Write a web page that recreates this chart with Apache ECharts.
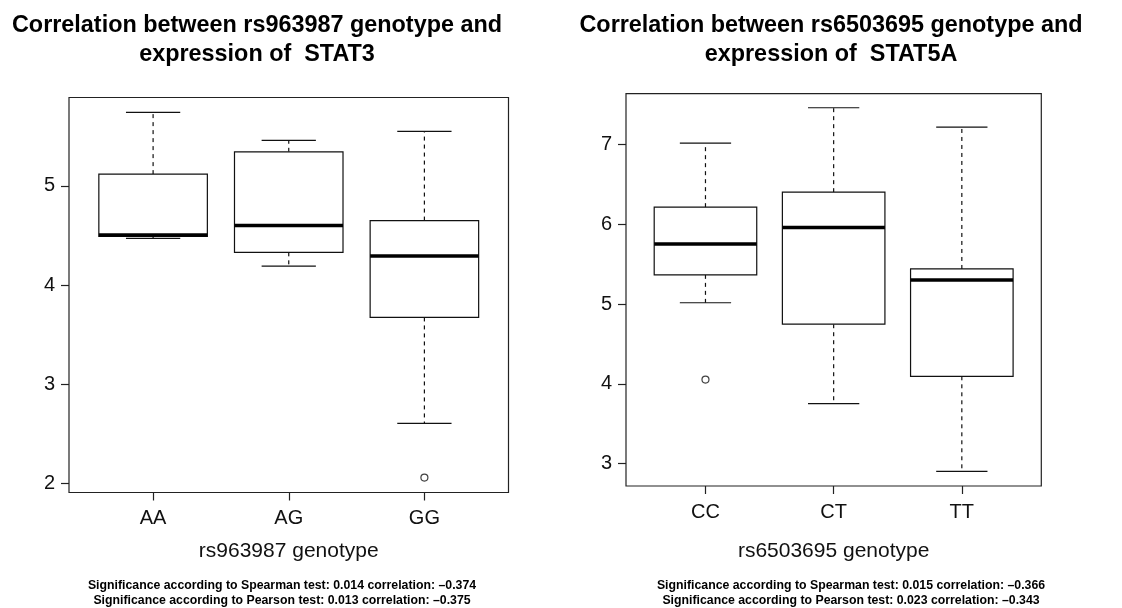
<!DOCTYPE html>
<html>
<head>
<meta charset="utf-8">
<script src="https://cdn.jsdelivr.net/npm/echarts@6/dist/echarts.min.js"></script>
<style>
  html, body { margin: 0; padding: 0; background: #fff; }
  #container { width: 1122px; height: 608px; }
</style>
</head>
<body>
<div id="container"></div>
<script>
var dom = document.getElementById("container");
var myChart = echarts.init(dom);

// left panel: rs963987 vs STAT3
var leftCats = ['AA', 'AG', 'GG'];
// [lower whisker, Q1, median, Q3, upper whisker]
var leftStats = [
    [4.47, 4.49, 4.505, 5.118, 5.74],
    [4.19, 4.33, 4.60, 5.343, 5.458],
    [2.606, 3.674, 4.293, 4.65, 5.549]
];
var leftOutliers = [[3, 2.06]];
var leftTicks = [2, 3, 4, 5];

// right panel: rs6503695 vs STAT5A
var rightCats = ['CC', 'CT', 'TT'];
var rightStats = [
    [5.018, 5.368, 5.756, 6.217, 7.02],
    [3.754, 4.749, 5.962, 6.405, 7.464],
    [2.904, 4.096, 5.305, 5.442, 7.222]
];
var rightOutliers = [[1, 4.055]];
var rightTicks = [3, 4, 5, 6, 7];

var FONT = "'Liberation Sans', Arial, Helvetica, sans-serif";

const toBoxData = (stats) =>
    stats.map(function (s, i) {
        return [i + 1].concat(s);
    });

// R style boxplot: dashed whiskers, solid caps, thick median
function renderBox(params, api) {
    var x = api.value(0);
    var lo = api.value(1), q1 = api.value(2), med = api.value(3), q3 = api.value(4), hi = api.value(5);
    var half = 0.4, cap = 0.2;
    var tl = api.coord([x - half, q3]);
    var br = api.coord([x + half, q1]);
    var line = function (a, b, style) {
        var p1 = api.coord(a), p2 = api.coord(b);
        return {
            type: 'line',
            shape: { x1: p1[0], y1: p1[1], x2: p2[0], y2: p2[1] },
            style: style
        };
    };
    var solid = { stroke: '#111', lineWidth: 1.2 };
    var dashed = { stroke: '#111', lineWidth: 1.2, lineDash: [4, 4] };
    return {
        type: 'group',
        children: [
            line([x, q3], [x, hi], dashed),
            line([x, q1], [x, lo], dashed),
            line([x - cap, hi], [x + cap, hi], solid),
            line([x - cap, lo], [x + cap, lo], solid),
            {
                type: 'rect',
                shape: { x: tl[0], y: tl[1], width: br[0] - tl[0], height: br[1] - tl[1] },
                style: { fill: '#fff', stroke: '#111', lineWidth: 1.2 }
            },
            line([x - half, med], [x + half, med], { stroke: '#000', lineWidth: 3.5 })
        ]
    };
}

function xAxisFor(idx, cats, name, gap) {
    return {
        type: 'value',
        gridIndex: idx,
        min: 0.38,
        max: 3.62,
        name: name,
        nameLocation: 'middle',
        nameGap: gap,
        nameTextStyle: { fontFamily: FONT, fontSize: 21, color: '#111' },
        axisLine: { show: false },
        splitLine: { show: false },
        axisTick: { show: true, length: 8, customValues: [1, 2, 3], lineStyle: { color: '#222', width: 1.2 } },
        axisLabel: {
            customValues: [1, 2, 3],
            margin: 16,
            fontFamily: FONT,
            fontSize: 20,
            color: '#111',
            formatter: function (v) { return cats[Math.round(v) - 1] || ''; }
        }
    };
}

function yAxisFor(idx, min, max, ticks) {
    return {
        type: 'value',
        gridIndex: idx,
        min: min,
        max: max,
        axisLine: { show: false },
        splitLine: { show: false },
        axisTick: { show: true, length: 8, customValues: ticks, lineStyle: { color: '#222', width: 1.2 } },
        axisLabel: {
            customValues: ticks,
            margin: 14,
            fontFamily: FONT,
            fontSize: 20,
            color: '#111'
        }
    };
}

var titleStyle = { fontFamily: FONT, fontSize: 23.4, fontWeight: 'bold', color: '#000', lineHeight: 29 };
var noteStyle = { fontFamily: FONT, fontSize: 12.3, fontWeight: 'bold', color: '#000', lineHeight: 15 };

option = {
    backgroundColor: '#fff',
    animation: false,
    title: [{
        text: 'Correlation between rs963987 genotype and\nexpression of  STAT3',
        left: 252,
        top: 6,
        textAlign: 'center',
        textStyle: titleStyle
    }, {
        text: 'Correlation between rs6503695 genotype and\nexpression of  STAT5A',
        left: 826,
        top: 6,
        textAlign: 'center',
        textStyle: titleStyle
    }, {
        text: 'Significance according to Spearman test: 0.014 correlation: \u20130.374\nSignificance according to Pearson test: 0.013 correlation: \u20130.375',
        left: 277,
        top: 573,
        textAlign: 'center',
        textStyle: noteStyle
    }, {
        text: 'Significance according to Spearman test: 0.015 correlation: \u20130.366\nSignificance according to Pearson test: 0.023 correlation: \u20130.343',
        left: 846,
        top: 573,
        textAlign: 'center',
        textStyle: noteStyle
    }],
    grid: [{
        left: 69, top: 97.5, width: 439.5, height: 395,
        show: true, borderColor: '#222', borderWidth: 1.2, backgroundColor: '#fff'
    }, {
        left: 626, top: 93.7, width: 415.3, height: 392.3,
        show: true, borderColor: '#222', borderWidth: 1.2, backgroundColor: '#fff'
    }],
    xAxis: [
        xAxisFor(0, leftCats, 'rs963987 genotype', 48),
        xAxisFor(1, rightCats, 'rs6503695 genotype', 55)
    ],
    yAxis: [
        yAxisFor(0, 1.91, 5.89, leftTicks),
        yAxisFor(1, 2.72, 7.64, rightTicks)
    ],
    series: [{
        type: 'custom',
        xAxisIndex: 0, yAxisIndex: 0,
        renderItem: renderBox,
        encode: { x: 0, y: [1, 2, 3, 4, 5] },
        data: toBoxData(leftStats)
    }, {
        type: 'scatter',
        xAxisIndex: 0, yAxisIndex: 0,
        symbol: 'circle',
        symbolSize: 7,
        itemStyle: { color: '#fff', borderColor: '#111', borderWidth: 1.2 },
        data: leftOutliers
    }, {
        type: 'custom',
        xAxisIndex: 1, yAxisIndex: 1,
        renderItem: renderBox,
        encode: { x: 0, y: [1, 2, 3, 4, 5] },
        data: toBoxData(rightStats)
    }, {
        type: 'scatter',
        xAxisIndex: 1, yAxisIndex: 1,
        symbol: 'circle',
        symbolSize: 7,
        itemStyle: { color: '#fff', borderColor: '#111', borderWidth: 1.2 },
        data: rightOutliers
    }]
};

myChart.setOption(option);
</script>
</body>
</html>
